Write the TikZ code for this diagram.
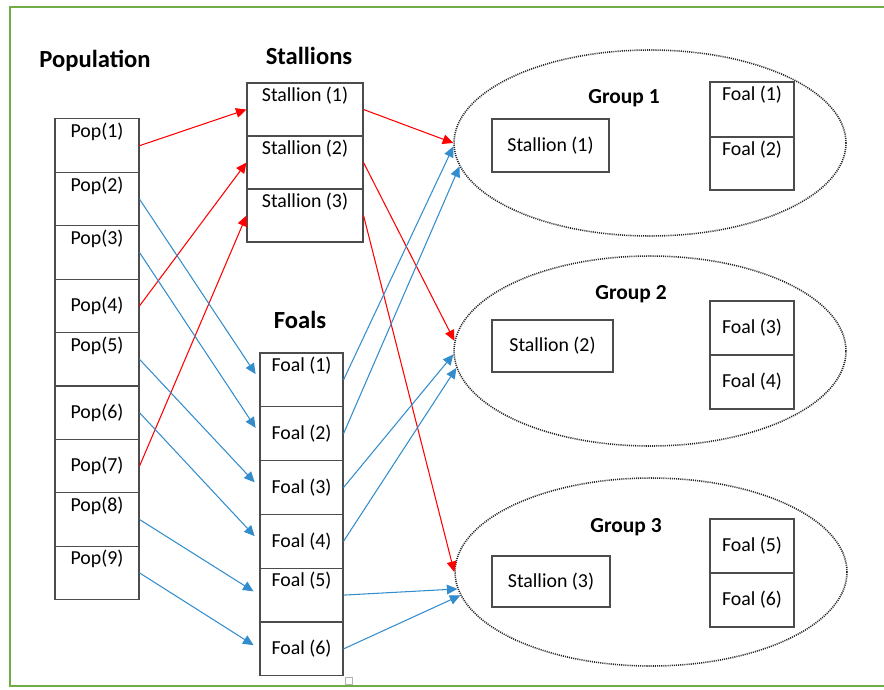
\documentclass[tikz,border=0pt]{standalone}
\usepackage{fontspec}
\setmainfont{Carlito}
\usetikzlibrary{arrows.meta,shapes.geometric}

\definecolor{framegreen}{RGB}{112,173,71}
\definecolor{arrblue}{RGB}{0,112,192}
\definecolor{arrred}{RGB}{255,0,0}

\begin{document}
\begin{tikzpicture}[x=0.02cm, y=-0.02cm, >={Triangle[length=6pt,width=5.5pt]},
  cell/.style={draw=black!70, line width=0.6pt, inner sep=0pt, minimum height=1.07cm},
  celltext/.style={inner sep=2.5pt, font=\fontsize{11.3}{13}\selectfont},
  title/.style={font=\fontsize{14}{16}\selectfont\bfseries},
  grouptitle/.style={font=\fontsize{12.2}{14}\selectfont\bfseries},
  group/.style={draw=black!85, ellipse, line width=0.9pt, dash pattern=on 0.6pt off 0.6pt,
    minimum width=7.84cm, minimum height=3.72cm, inner sep=0pt},
  redarrow/.style={->, arrred, line width=0.6pt},
  bluearrow/.style={->, arrblue!80, line width=0.6pt}]

\useasboundingbox (0,0) rectangle (884,689);

% Frame
\draw[framegreen, line width=1.1pt] (884,7) -- (10,7) -- (10,686) -- (884,686);

% Titles
\node[title] (poptitle) at (95,61) {Population};
\node[title] (sttitle) at (309,56) {Stallions};
\node[title] (foaltitle) at (300,320) {Foals};

% Population column
\foreach \i/\pos in {1/north,2/north,3/north,4/center,5/north,6/center,7/center,8/north,9/north} {
  \node[cell, minimum width=1.68cm] (p\i) at (97,{119+53.4*(\i-0.5)}) {};
  \node[celltext, anchor=\pos] (pt\i) at (p\i.\pos) {Pop(\i)};
}

% Stallions column
\foreach \i in {1,2,3} {
  \node[cell, minimum width=2.32cm, minimum height=1.06cm] (s\i) at (305,{83+53*(\i-0.5)}) {};
  \node[celltext, anchor=north] (st\i) at (s\i.north) {Stallion (\i)};
}

% Foals column
\foreach \i/\pos in {1/north,2/center,3/center,4/center,5/north,6/center} {
  \node[cell, minimum width=1.66cm, minimum height=1.076cm] (f\i) at (301.5,{353+53.8*(\i-0.5)}) {};
  \node[celltext, anchor=\pos] (ft\i) at (f\i.\pos) {Foal (\i)};
}
\draw[black!30] (345,677) rectangle (352,684);

% Groups
\node[group] (g1) at (650,143) {};
\node[group, minimum height=3.8cm] (g2) at (650,351) {};
\node[group, minimum height=3.76cm] (g3) at (651,572) {};

\node[grouptitle] (gt1) at (624,98) {Group 1};
\node[grouptitle] (gt2) at (631,294) {Group 2};
\node[grouptitle] (gt3) at (626,527) {Group 3};

% Group members
\node[cell, minimum width=2.34cm, minimum height=1.06cm, celltext] (gs1) at (550.5,145.5) {Stallion (1)};
\node[cell, minimum width=2.42cm, minimum height=1.04cm, celltext] (gs2) at (552.5,346) {Stallion (2)};
\node[cell, minimum width=2.36cm, minimum height=1.02cm, celltext] (gs3) at (551,581.5) {Stallion (3)};

\node[cell, minimum width=1.68cm, minimum height=1.1cm] (gf1) at (752,109.5) {};
\node[cell, minimum width=1.68cm, minimum height=1.06cm] (gf2) at (752,163.5) {};
\node[celltext, anchor=north] (gft1) at (gf1.north) {Foal (1)};
\node[celltext, anchor=north] (gft2) at (gf2.north) {Foal (2)};

\node[cell, minimum width=1.68cm, minimum height=1.08cm, celltext] (gf3) at (752,328) {Foal (3)};
\node[cell, minimum width=1.68cm, minimum height=1.08cm, celltext] (gf4) at (752,382) {Foal (4)};
\node[cell, minimum width=1.68cm, minimum height=1.08cm, celltext] (gf5) at (752,546) {Foal (5)};
\node[cell, minimum width=1.68cm, minimum height=1.08cm, celltext] (gf6) at (752,600) {Foal (6)};

% Population -> stallions
\draw[redarrow] (p1.east) -- (s1.west);
\draw[redarrow] (p4.east) -- (s2.west);
\draw[redarrow] (p7.east) -- (s3.west);

% Population -> foals
\foreach \a/\b in {2/1,3/2,5/3,6/4,8/5,9/6}
  \draw[bluearrow, shorten >=4pt] (p\a.east) -- (f\b.west);

% Stallions -> groups
\draw[redarrow] (s1.east) -- (g1.180);
\draw[redarrow] (s2.east) -- (g2.177.4);
\draw[redarrow] (s3.east) -- (g3.180);

% Foals -> groups
\draw[bluearrow] (f1.east) -- (g1.181.5);
\draw[bluearrow] (f2.east) -- (g1.187.6);
\draw[bluearrow] (f3.east) -- (g2.181.2);
\draw[bluearrow] (f4.east) -- (g2.185.4);
\draw[bluearrow] (f5.east) -- (g3.185);
\draw[bluearrow] (f6.east) -- (g3.187.8);

\end{tikzpicture}
\end{document}
